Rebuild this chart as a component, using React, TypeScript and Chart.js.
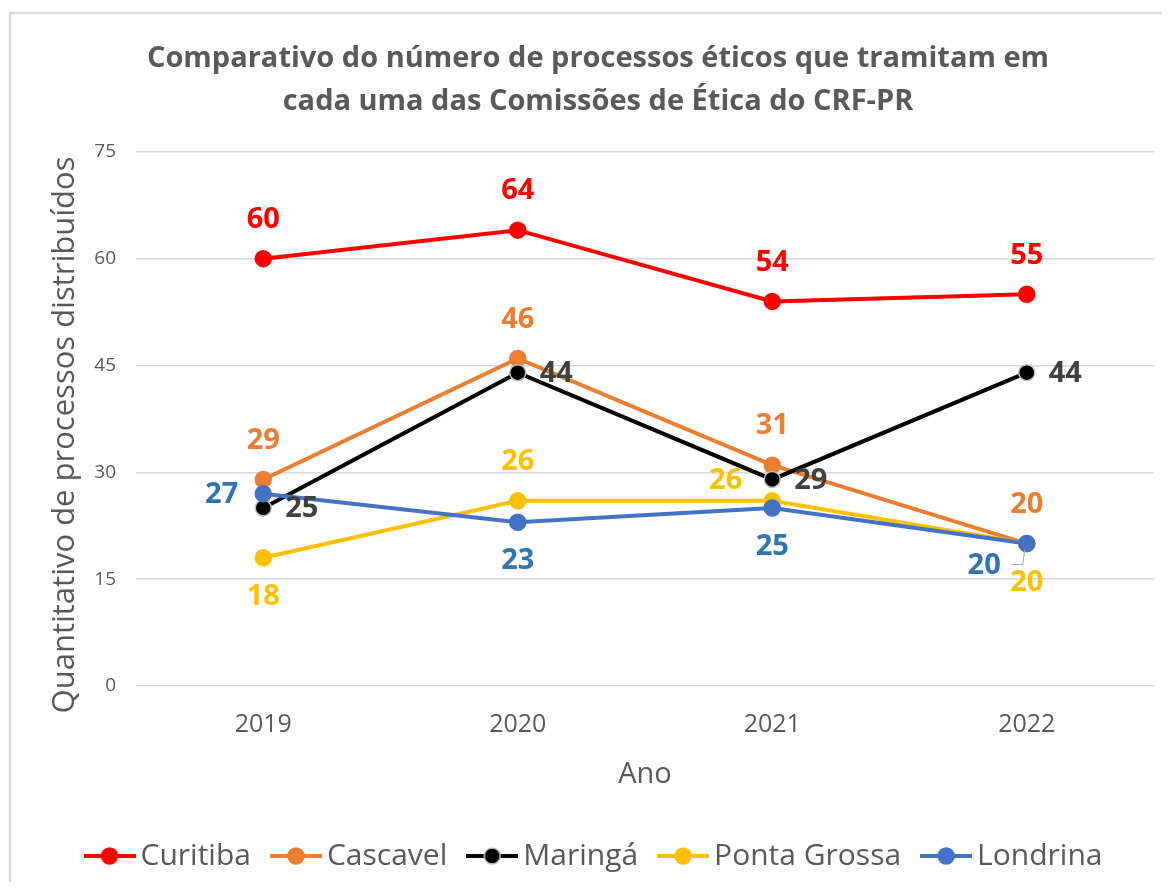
import React, { useEffect, useRef } from "react";
import { Chart, registerables } from "chart.js";

Chart.register(...registerables);

const titleLines = [
  "Comparativo do número de processos éticos que tramitam em",
  "cada uma das Comissões de Ética do CRF-PR",
];
const years = ["2019", "2020", "2021", "2022"];
const seriesNames = ["Curitiba", "Cascavel", "Maringá", "Ponta Grossa", "Londrina"];
const curitiba = [60, 64, 54, 55];
const cascavel = [29, 46, 31, 20];
const maringa = [25, 44, 29, 44];
const pontaGrossa = [18, 26, 26, 20];
const londrina = [27, 23, 25, 20];
const yTicks = [0, 15, 30, 45, 60, 75];
const xTitle = "Ano";
const yTitle = "Quantitativo de processos distribuídos";

const lineColors = ["#FF0000", "#ED7D31", "#000000", "#FFC000", "#4472C4"];
const pointBorders = ["#FF0000", "#ED7D31", "#BFBFBF", "#FFC000", "#4472C4"];
const labelColors = ["#FF0000", "#ED7D31", "#404040", "#FFC000", "#2E75B6"];
// label placement per series / point
const placements = [
  ["above", "above", "above", "above"],
  ["above", "above", "above", "above"],
  ["right", "right", "right", "right"],
  ["below", "above", "leftup", "below"],
  ["left", "below", "below", "leftdown"],
];

const FONT = "'Open Sans', sans-serif";

function makeLegendIcon(color: string, border: string) {
  const c = document.createElement("canvas");
  c.width = 52;
  c.height = 20;
  const ctx = c.getContext("2d")!;
  ctx.strokeStyle = color;
  ctx.lineWidth = 4;
  ctx.beginPath();
  ctx.moveTo(0, 10);
  ctx.lineTo(52, 10);
  ctx.stroke();
  ctx.beginPath();
  ctx.arc(26, 10, 8, 0, Math.PI * 2);
  ctx.fillStyle = color;
  ctx.fill();
  ctx.lineWidth = 1.5;
  ctx.strokeStyle = border;
  ctx.stroke();
  return c;
}

const frameAndLabels = {
  id: "frameAndLabels",
  beforeDraw(chart: any) {
    const ctx = chart.ctx;
    ctx.save();
    ctx.strokeStyle = "#D9D9D9";
    ctx.lineWidth = 2.5;
    ctx.strokeRect(10, 13, chart.width + 20, chart.height + 20);
    // y axis title
    ctx.translate(65, 435);
    ctx.rotate(-Math.PI / 2);
    ctx.fillStyle = "#595959";
    ctx.font = `31px ${FONT}`;
    ctx.textAlign = "center";
    ctx.textBaseline = "middle";
    ctx.fillText(yTitle, 0, 0);
    ctx.restore();
  },
  afterDatasetsDraw(chart: any) {
    const ctx = chart.ctx;
    ctx.save();
    ctx.font = `bold 29px ${FONT}`;
    ctx.textBaseline = "middle";
    chart.data.datasets.forEach((ds: any, di: number) => {
      const meta = chart.getDatasetMeta(di);
      meta.data.forEach((pt: any, i: number) => {
        const text = String(ds.data[i]);
        const p = placements[di][i];
        let x = pt.x;
        let y = pt.y;
        ctx.textAlign = "center";
        if (p === "above") y -= 40;
        else if (p === "below") y += 38;
        else if (p === "right") {
          ctx.textAlign = "left";
          x += 22;
        } else if (p === "left") {
          ctx.textAlign = "right";
          x -= 25;
        } else if (p === "leftup") {
          ctx.textAlign = "right";
          x -= 30;
          y -= 21;
        } else if (p === "leftdown") {
          ctx.textAlign = "right";
          x -= 26;
          y += 21;
          ctx.save();
          ctx.strokeStyle = "#A6A6A6";
          ctx.lineWidth = 1;
          ctx.beginPath();
          ctx.moveTo(pt.x - 15, pt.y + 21);
          ctx.lineTo(pt.x - 4, pt.y + 21);
          ctx.lineTo(pt.x - 2, pt.y + 6);
          ctx.stroke();
          ctx.restore();
        }
        ctx.fillStyle = labelColors[di];
        ctx.fillText(text, x, y + 1);
      });
    });
    ctx.restore();
  },
};

export default function App() {
  const ref = useRef<HTMLCanvasElement>(null);
  useEffect(() => {
    const allData = [curitiba, cascavel, maringa, pontaGrossa, londrina];
    const icons = seriesNames.map((_, i) => makeLegendIcon(lineColors[i], pointBorders[i]));
    const chart = new Chart(ref.current!, {
      type: "line",
      data: {
        labels: years,
        datasets: seriesNames.map((name, i) => ({
          label: name,
          data: allData[i],
          borderColor: lineColors[i],
          backgroundColor: lineColors[i],
          pointBackgroundColor: lineColors[i],
          pointBorderColor: pointBorders[i],
          pointBorderWidth: 1.5,
          pointRadius: 8,
          borderWidth: 4,
          tension: 0,
          order: seriesNames.length - i,
          pointStyle: "circle",
        })),
      },
      options: {
        animation: false,
        responsive: false,
        maintainAspectRatio: false,
        layout: { padding: { left: 42, right: 16, top: 0, bottom: 9 } },
        plugins: {
          tooltip: { enabled: false },
          title: {
            display: true,
            text: titleLines,
            color: "#595959",
            font: { family: FONT, size: 29, weight: "bold", lineHeight: 1.48 },
            padding: { top: 37, bottom: 29 },
          },
          legend: {
            position: "bottom",
            labels: {
              usePointStyle: true,
              pointStyleWidth: 32,
              boxHeight: 20,
              padding: 29,
              color: "#595959",
              font: { family: FONT, size: 30 },
              sort: (a: any, b: any) => a.datasetIndex - b.datasetIndex,
              generateLabels: (ch: any) =>
                ch.data.datasets.map((ds: any, i: number) => ({
                  text: ds.label,
                  fillStyle: lineColors[i],
                  strokeStyle: lineColors[i],
                  pointStyle: icons[i],
                  datasetIndex: i,
                  hidden: false,
                  lineWidth: 0,
                  fontColor: "#595959",
                })),
            },
          },
        },
        scales: {
          x: {
            offset: true,
            grid: { display: false, drawTicks: false },
            border: { display: false },
            ticks: { color: "#595959", font: { family: FONT, size: 25 }, padding: 24 },
            title: {
              display: true,
              text: xTitle,
              color: "#595959",
              font: { family: FONT, size: 29 },
              padding: { top: 0, bottom: 20 },
            },
            afterFit: (s: any) => {
              s.height = 126;
            },
          },
          y: {
            min: 0,
            max: 75,
            afterBuildTicks: (s: any) => {
              s.ticks = yTicks.map((v) => ({ value: v }));
            },
            grid: { color: "#D9D9D9", lineWidth: 1.5, drawTicks: false },
            border: { display: false },
            ticks: { color: "#595959", font: { family: FONT, size: 19 }, padding: 20 },
            title: { display: false },
            afterFit: (s: any) => {
              s.width = 94;
            },
          },
        },
      },
      plugins: [frameAndLabels],
    });
    return () => chart.destroy();
  }, []);
  return (
    <div style={{ margin: -8, width: 1170, height: 890, background: "#fff" }}>
      <canvas ref={ref} width={1170} height={890} style={{ display: "block" }} />
    </div>
  );
}
